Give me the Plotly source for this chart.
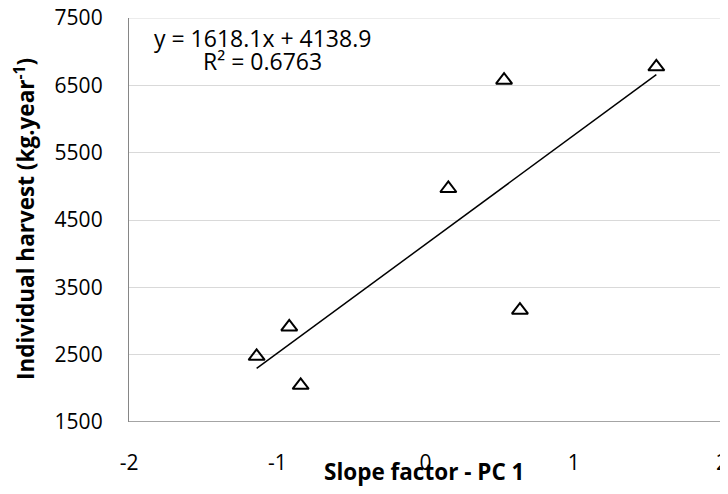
import plotly.graph_objects as go

# Data
slope_pc1 = [-1.139, -0.919, -0.842, 0.154, 0.530, 0.637, 1.557]
harvest = [2476, 2912, 2045, 4968, 6577, 3160, 6775]

# Trend line (from equation shown on chart)
slope_coef = 1618.1
intercept = 4138.9
r_squared = 0.6763
trend_x = [min(slope_pc1), max(slope_pc1)]
trend_y = [slope_coef * v + intercept for v in trend_x]

x_ticks = [-2, -1, 0, 1, 2]
y_ticks = [1500, 2500, 3500, 4500, 5500, 6500, 7500]

FONT = "Open Sans"

fig = go.Figure()
fig.add_trace(go.Scatter(x=trend_x, y=trend_y, mode="lines",
                         line=dict(color="black", width=1.5),
                         showlegend=False, hoverinfo="skip"))
fig.add_trace(go.Scatter(x=slope_pc1, y=harvest, mode="markers",
                         marker=dict(symbol="triangle-up-open", size=14,
                                     color="black", line=dict(width=2, color="black")),
                         showlegend=False))

fig.update_layout(
    width=720, height=486,
    margin=dict(l=121, r=6, t=10, b=72),
    paper_bgcolor="white", plot_bgcolor="white",
    font=dict(family=FONT, size=21, color="black"),
    xaxis=dict(range=[-2, 2], tickvals=x_ticks, ticktext=[str(v) for v in x_ticks],
               showgrid=False, zeroline=False, showline=False, automargin=False,
               ticks="outside", ticklen=22, tickcolor="rgba(0,0,0,0)",
               tickfont=dict(size=21), ticklabeloverflow="allow"),
    yaxis=dict(range=[1500, 7500], tickvals=y_ticks, ticktext=[str(v) for v in y_ticks],
               showgrid=True, gridcolor="#d9d9d9", gridwidth=1.2, automargin=False,
               zeroline=False, showline=True, linecolor="#868686", linewidth=1.3,
               ticks="outside", ticklen=21, tickcolor="rgba(0,0,0,0)",
               tickfont=dict(size=21), ticklabeloverflow="allow"),
    shapes=[dict(type="line", xref="paper", yref="y", x0=0, x1=1, y0=1500, y1=1500,
                 line=dict(color="#868686", width=1.3)),
            dict(type="line", xref="paper", yref="y", x0=0, x1=1, y0=7500, y1=7500,
                 line=dict(color="#d9d9d9", width=1.2), layer="below")],
    annotations=[
        dict(text="<b>Slope factor - PC 1</b>", xref="paper", yref="paper",
             x=0.4975, y=-0.1213, xanchor="center", yanchor="middle",
             showarrow=False, font=dict(size=22.5)),
        dict(text="<b>Individual harvest (kg.year<sup>-1</sup>)</b>", xref="paper", yref="paper",
             x=-0.1754, y=0.5025, xanchor="center", yanchor="middle", textangle=-90,
             showarrow=False, font=dict(size=22.5)),
        dict(text=f"y = {slope_coef}x + {intercept}", xref="paper", yref="paper",
             x=0.2243, y=0.9505, xanchor="center", yanchor="middle",
             showarrow=False, font=dict(size=23)),
        dict(text=f"R² = {r_squared}", xref="paper", yref="paper",
             x=0.2243, y=0.8936, xanchor="center", yanchor="middle",
             showarrow=False, font=dict(size=23)),
    ],
)

fig.write_html("out.html")
